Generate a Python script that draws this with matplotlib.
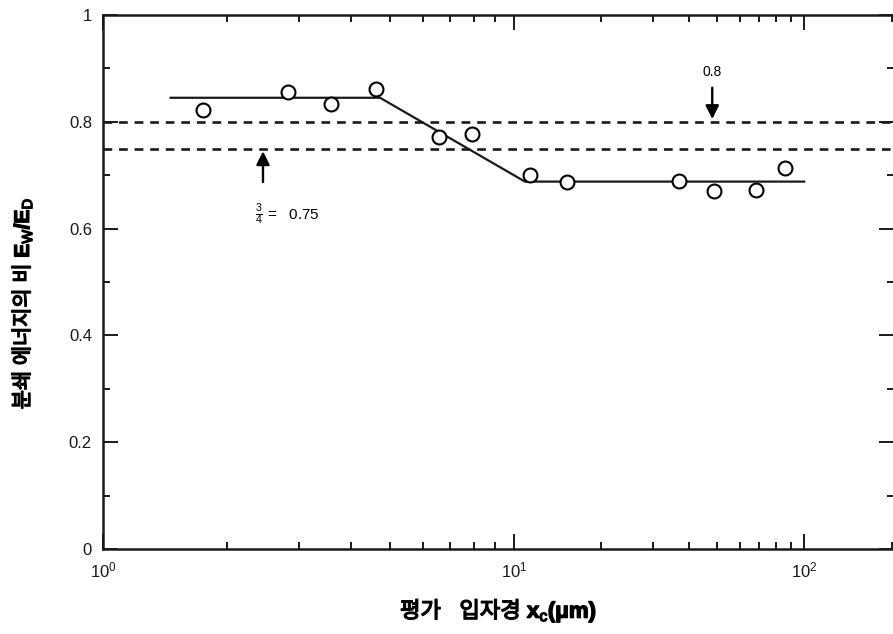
import numpy as np
import matplotlib
matplotlib.use('Agg')
import matplotlib.pyplot as plt
import matplotlib.patheffects as pe

plt.rcParams['font.family'] = ['Liberation Sans', 'Noto Sans CJK KR', 'DejaVu Sans']
plt.rcParams['mathtext.fontset'] = 'custom'
plt.rcParams['mathtext.rm'] = 'Liberation Sans'
plt.rcParams['mathtext.it'] = 'Liberation Sans:italic'
plt.rcParams['mathtext.bf'] = 'Liberation Sans:bold'
plt.rcParams['mathtext.sf'] = 'Noto Sans CJK KR'  ## korean words inside the axis labels

# measured points
x_size = [1.75, 2.82, 3.59, 4.61, 6.58, 7.90, 11.3, 15.2, 37.1, 49.0, 68.2, 85.9]
ratio = [0.822, 0.856, 0.833, 0.862, 0.771, 0.778, 0.700, 0.687, 0.690, 0.671, 0.673, 0.713]

# fitted line
fit_x = [1.46, 4.72, 10.9, 100]
fit_y = [0.845, 0.845, 0.688, 0.688]

# reference levels
levels = [0.8, 0.75]

x_ticks = [1, 10, 100]
x_ticklabels = ['$10^0$', '$10^1$', '$10^2$']
x_minor = [2, 3, 4, 5, 6, 7, 8, 9, 20, 30, 40, 50, 60, 70, 80, 90, 200]
y_ticks = [0, 0.2, 0.4, 0.6, 0.8, 1.0]
y_ticklabels = ['0', '0.2', '0.4', '0.6', '0.8', '1']

## the first decade of the original axis is drawn wider than the second
K = 411 / 290


def fwd(x):
    u = np.log10(np.clip(x, 1e-3, None))
    return np.where(u < 1, 1 + (u - 1) * K, u)


def inv(f):
    u = np.where(f < 1, 1 + (f - 1) / K, f)
    return 10 ** u


fig = plt.figure(figsize=(8.93, 6.34), dpi=100)
ax = fig.add_axes([103 / 893, 1 - 549 / 634, 791 / 893, 534 / 634])
ax.set_xscale('function', functions=(fwd, inv))
ax.set_xlim(1, 204)
ax.set_ylim(0, 1)

for lv in levels:
    ax.axhline(lv, color='#1a1a1a', lw=1.9, ls=(0, (3.3, 2.6)))

ax.plot(fit_x, fit_y, color='#1a1a1a', lw=1.6)
ax.plot(x_size, ratio, 'o', ms=10, mfc='white', mec='black', mew=1.5)

ax.annotate('', xy=(48.2, 0.8), xytext=(48.2, 0.869),
            arrowprops=dict(arrowstyle='-|>', color='black', lw=1.7, mutation_scale=20))
ax.text(48.2, 0.893, '0.8', ha='center', va='center', fontsize=10)

ax.annotate('', xy=(2.45, 0.75), xytext=(2.45, 0.682),
            arrowprops=dict(arrowstyle='-|>', color='black', lw=1.7, mutation_scale=20))
ax.text(2.34, 0.627, r'$\frac{3}{4}$ =   0.75', ha='left', va='center', fontsize=11)

ax.set_xticks(x_ticks, labels=x_ticklabels)
ax.set_xticks(x_minor, minor=True)
ax.set_yticks(y_ticks, labels=y_ticklabels)
ax.set_yticks(np.arange(0.1, 1.0, 0.2), minor=True)
ax.tick_params(which='both', direction='in', top=True, right=True, width=1.4, labelsize=12, colors='#1a1a1a')
ax.tick_params(which='major', length=11, pad=8)
ax.tick_params(which='minor', length=5)
for s in ax.spines.values():
    s.set_linewidth(1.8)
    s.set_color('#1a1a1a')

bold = [pe.Stroke(linewidth=1.0, foreground='black'), pe.Normal()]
xl = ax.set_xlabel(r'$\mathsf{평가\ \ \ 입자경}\ \mathbf{x}_\mathrm{c}\mathbf{(μm)}$', fontsize=16, labelpad=12)
yl = ax.set_ylabel(r'$\mathsf{분쇄\ 에너지의\ 비}\ \mathbf{E}_\mathrm{W}\mathbf{/E}_\mathrm{D}$', fontsize=15)
xl.set_path_effects(bold)
yl.set_path_effects(bold)
ax.yaxis.set_label_coords(-0.087, 0.46)

fig.savefig('out.png', dpi=100)
